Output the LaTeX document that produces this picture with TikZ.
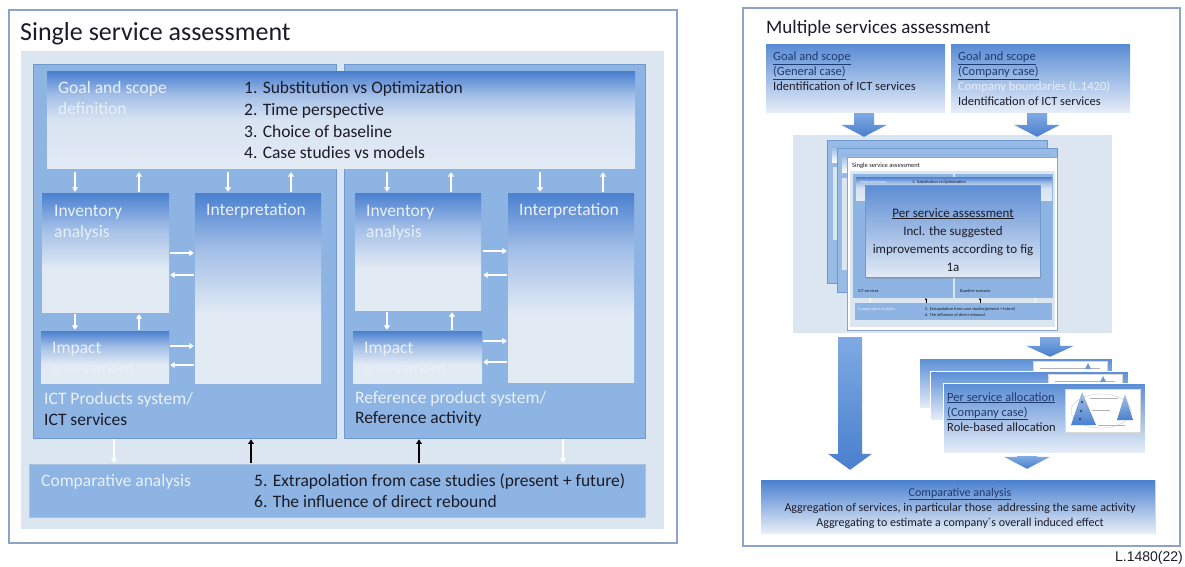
\documentclass[tikz,border=0pt]{standalone}
\usepackage{fontspec}
\setmainfont{Carlito}
\newfontfamily\arialfont{Liberation Sans}
\usetikzlibrary{fit,shadows,calc,arrows.meta}

\definecolor{frameC}{HTML}{8FA3C8}
\definecolor{panelC}{HTML}{DCE6F1}
\definecolor{sysC}{HTML}{8DB4E2}
\definecolor{sysEdge}{HTML}{6F98CE}
\definecolor{gradTop}{HTML}{4A80D0}
\definecolor{gradMid}{HTML}{A3BFE7}
\definecolor{gradBot}{HTML}{E2EAF4}
\definecolor{paleTxt}{HTML}{E9F0F9}
\definecolor{headC}{HTML}{1F3A6E}
\definecolor{inkC}{HTML}{1C1C28}
\definecolor{arrTop}{HTML}{7FAAE3}
\definecolor{arrBot}{HTML}{4A7FCD}
\definecolor{slideTop}{HTML}{5A8DD6}
\definecolor{slideBot}{HTML}{E7EEF7}

% box shadings: strong blue at the top fading to a pale bottom
\pgfdeclareverticalshading{boxshade}{100bp}{color(0bp)=(gradBot); color(25bp)=(gradBot); color(43bp)=(gradBot); color(60bp)=(gradMid); color(75bp)=(gradTop); color(100bp)=(gradTop)}
\pgfdeclareverticalshading{goalshade}{100bp}{color(0bp)=(gradBot); color(25bp)=(gradBot); color(50bp)=(gradBot!85!gradMid); color(63bp)=(gradMid); color(75bp)=(gradTop); color(100bp)=(gradTop)}

\tikzset{
  frame/.style={draw=frameC, line width=1.2pt, fill=white, inner sep=0pt},
  panel/.style={fill=panelC, inner sep=0pt},
  sysbox/.style={fill=sysC, draw=sysEdge, line width=0.6pt, inner sep=0pt,
     drop shadow={opacity=0.3, shadow xshift=0.8pt, shadow yshift=-1.2pt}},
  flatbox/.style={fill=sysC, inner sep=0pt},
  gradbox/.style={shading=boxshade, inner sep=0pt},
  goalbox/.style={shading=goalshade, inner sep=0pt},
  slidebox/.style={top color=slideTop, bottom color=slideBot, inner sep=0pt},
  txt/.style={inner sep=0pt, anchor=base west, font=\fontsize{17.5}{21}\selectfont, text=inkC},
  pale/.style={txt, text=paleTxt},
  rtxt/.style={inner sep=0pt, anchor=base west, font=\fontsize{12.5}{15}\selectfont, text=inkC},
  tiny/.style={inner sep=0pt, anchor=base west, font=\fontsize{4.3}{5}\selectfont, text=inkC},
  ctxt/.style={inner sep=0pt, anchor=base, font=\fontsize{12}{14}\selectfont, text=inkC},
  warr/.style={white, line width=1.4pt, -{Triangle[length=4.5pt,width=6pt]}},
  barr/.style={black, line width=1.3pt, -{Triangle[length=4.5pt,width=5.5pt]}},
  twarr/.style={white, line width=0.5pt, -{Triangle[length=1.6pt,width=2pt]}},
  tbarr/.style={black, line width=0.5pt, -{Triangle[length=1.6pt,width=2pt]}},
  blockarrow/.style={top color=arrTop, bottom color=arrBot},
}

% downward block arrow between two anchors:
% #1 start, #2 end, #3 start gap, #4 end gap, #5 shaft half width, #6 head half width, #7 head length
\newcommand\blockdown[7]{%
  \shade[blockarrow] let \p1=#1, \p2=#2 in
    (\x1-#5,\y1-#3) -- (\x1+#5,\y1-#3) -- (\x1+#5,\y2+#4+#7) -- (\x1+#6,\y2+#4+#7)
    -- (\x1,\y2+#4) -- (\x1-#6,\y2+#4+#7) -- (\x1-#5,\y2+#4+#7) -- cycle;}

\begin{document}
\begin{tikzpicture}[x=1pt,y=-1pt]
\useasboundingbox (0,0) rectangle (1185,567);
\fill[white] (0,0) rectangle (1185,567);

% ================= single service assessment =================
\node[frame, fit={(9,10)(677,543)}] (frameL) {};
\node[inner sep=0pt, anchor=base west, font=\fontsize{26}{30}\selectfont, text=inkC] (titleL) at (20,41) {Single service assessment};
\node[panel, fit={(21,51)(664,529)}] (panelL) {};

\node[sysbox, fit={(33,64)(336,438)}] (sysL) {};
\node[sysbox, fit={(344,64)(645,438)}] (sysR) {};

% goal and scope definition, shared by both systems
\node[goalbox, fit={(47,72)(635,168)}] (goal) {};
\node[pale] (goalA) at (58,94) {Goal and scope};
\node[pale] (goalB) at (58,115) {definition};
\node[txt] (q1) at (244,94) {1. Substitution vs Optimization};
\node[txt] (q2) at (244,115.5) {2. Time perspective};
\node[txt] (q3) at (244,137) {3. Choice of baseline};
\node[txt] (q4) at (244,158.5) {4. Case studies vs models};

% ICT product system
\node[gradbox, fit={(42,193)(169,312)}] (invL) {};
\node[gradbox, fit={(195,193)(321,383)}] (intL) {};
\node[gradbox, fit={(41,331)(169,383)}] (impL) {};
\node[pale] (invLa) at (54,216) {Inventory};
\node[pale] (invLb) at (54,237) {analysis};
\node[pale] (intLa) at (206,215) {Interpretation};
\node[pale] (impLa) at (52,353) {Impact};
\node[pale] (impLb) at (52,374) {assessment};
\node[pale] (sysLa) at (44,404) {ICT Products system/};
\node[txt] (sysLb) at (44,425) {ICT services};

% reference product system
\node[gradbox, fit={(355,193)(481,310)}] (invR) {};
\node[gradbox, fit={(508,193)(634,382)}] (intR) {};
\node[gradbox, fit={(353,331)(482,383)}] (impR) {};
\node[pale] (invRa) at (366,216) {Inventory};
\node[pale] (invRb) at (366,237) {analysis};
\node[pale] (intRa) at (519,215) {Interpretation};
\node[pale] (impRa) at (364,353) {Impact};
\node[pale] (impRb) at (364,374) {assessment};
\node[pale] (sysRa) at (355,403) {Reference product system/};
\node[txt] (sysRb) at (355,423) {Reference activity};

% comparative analysis
\node[flatbox, draw=sysEdge!60, line width=0.4pt, fit={(29,464)(645,517)}] (cmpL) {};
\node[pale] (cmpLa) at (41,486) {Comparative analysis};
\node[txt] (cmpLb) at (254,486) {5. Extrapolation from case studies (present + future)};
\node[txt] (cmpLc) at (254,507) {6. The influence of direct rebound};

% goal <-> inventory / interpretation
\draw[warr, shorten <=4pt, shorten >=1pt] (goal.south -| 75,0) -- (invL.north -| 75,0);
\draw[warr, shorten <=1pt, shorten >=4pt] (invL.north -| 139,0) -- (goal.south -| 139,0);
\draw[warr, shorten <=4pt, shorten >=1pt] (goal.south -| 228,0) -- (intL.north -| 228,0);
\draw[warr, shorten <=1pt, shorten >=4pt] (intL.north -| 291,0) -- (goal.south -| 291,0);
\draw[warr, shorten <=4pt, shorten >=1pt] (goal.south -| 387,0) -- (invR.north -| 387,0);
\draw[warr, shorten <=1pt, shorten >=4pt] (invR.north -| 451,0) -- (goal.south -| 451,0);
\draw[warr, shorten <=4pt, shorten >=1pt] (goal.south -| 540,0) -- (intR.north -| 540,0);
\draw[warr, shorten <=1pt, shorten >=4pt] (intR.north -| 603,0) -- (goal.south -| 603,0);

% inventory <-> impact
\draw[warr, shorten <=2pt, shorten >=1pt] (invL.south -| 75,0) -- (impL.north -| 75,0);
\draw[warr, shorten <=1pt, shorten >=2pt] (impL.north -| 139,0) -- (invL.south -| 139,0);
\draw[warr, shorten <=2pt, shorten >=1pt] (invR.south -| 387,0) -- (impR.north -| 387,0);
\draw[warr, shorten <=1pt, shorten >=2pt] (impR.north -| 452,0) -- (invR.south -| 452,0);

% inventory / impact <-> interpretation
\draw[warr, shorten <=1pt, shorten >=1pt] (invL.east |- 0,253) -- (intL.west |- 0,253);
\draw[warr, shorten <=1pt, shorten >=1pt] (intL.west |- 0,275) -- (invL.east |- 0,275);
\draw[warr, shorten <=1pt, shorten >=1pt] (impL.east |- 0,346) -- (intL.west |- 0,346);
\draw[warr, shorten <=1pt, shorten >=1pt] (intL.west |- 0,365) -- (impL.east |- 0,365);
\draw[warr, shorten <=2pt, shorten >=1pt] (invR.east |- 0,251) -- (intR.west |- 0,251);
\draw[warr, shorten <=1pt, shorten >=2pt] (intR.west |- 0,275) -- (invR.east |- 0,275);
\draw[warr, shorten <=1pt, shorten >=1pt] (impR.east |- 0,341) -- (intR.west |- 0,341);
\draw[warr, shorten <=1pt, shorten >=1pt] (intR.west |- 0,362) -- (impR.east |- 0,362);

% systems <-> comparative analysis
\draw[warr, shorten <=1pt, shorten >=1pt] (sysL.south -| 114,0) -- (cmpL.north -| 114,0);
\draw[barr, shorten <=1pt, shorten >=1pt] (cmpL.north -| 251,0) -- (sysL.south -| 251,0);
\draw[barr, shorten <=1pt, shorten >=1pt] (cmpL.north -| 419,0) -- (sysR.south -| 419,0);
\draw[warr, shorten <=1pt, shorten >=1pt] (sysR.south -| 563,0) -- (cmpL.north -| 563,0);

% ================= multiple services assessment =================
\node[frame, fit={(743,8)(1180,546)}] (frameR) {};
\node[inner sep=0pt, anchor=base west, font=\fontsize{19}{23}\selectfont, text=inkC] (titleR) at (766,34) {Multiple services assessment};

\node[slidebox, fit={(766,45)(945,113)}] (goalG) {};
\node[slidebox, fit={(951,45)(1130,113)}] (goalC) {};
\node[rtxt, text=headC] (gGa) at (773,61) {\underline{Goal and scope}};
\node[rtxt, text=headC] (gGb) at (773,76) {\underline{(General case)}};
\node[rtxt] (gGc) at (773,91) {Identification of ICT services};
\node[rtxt, text=headC] (gCa) at (958,61) {\underline{Goal and scope}};
\node[rtxt, text=headC] (gCb) at (958,76) {\underline{(Company case)}};
\node[rtxt, text=paleTxt] (gCc) at (958,91) {Company boundaries (L.1420)};
\node[rtxt] (gCd) at (958,106) {Identification of ICT services};

\node[panel, fit={(793,135)(1112,333)}] (panelR) {};

% stack of single service assessments
\node[fill=sysC!90!white, draw=sysEdge, line width=0.6pt, inner sep=0pt, fit={(827,140)(1047,283)}] (slA) {};
\node[top color=sysC, bottom color=white, inner sep=0pt, fit={(832,146)(1042,162)}] (slAbar) {};
\node[fill=panelC, inner sep=0pt, fit={(833,167)(840,240)}] (slAstrip) {};
\node[fill=sysC!90!white, draw=sysEdge, line width=0.6pt, inner sep=0pt, fit={(837,148)(1057,292)}] (slB) {};
\node[top color=sysC, bottom color=white, inner sep=0pt, fit={(842,154)(1052,172)}] (slBbar) {};
\node[fill=panelC, inner sep=0pt, fit={(842,178)(850,270)}] (slBstrip) {};

\node[fill=white, draw=frameC, line width=0.6pt, inner sep=0pt, fit={(847,157)(1057,330)}] (slC) {};
\node[inner sep=0pt, anchor=base west, font=\fontsize{6.5}{7}\selectfont, text=inkC] (slCt) at (852,167) {Single service assessment};
\node[panel, fit={(850,171)(1055,327)}] (slCp) {};
\node[flatbox, fit={(853,174)(953,298)}] (slCl) {};
\node[flatbox, fit={(955,174)(1053,298)}] (slCr) {};
\node[goalbox, fit={(856,177)(1052,200)}] (slCg) {};
\node[tiny, text=paleTxt] (slCga) at (860,183) {Goal and scope};
\node[tiny] (slCgb) at (912,183) {1. Substitution vs Optimization};
\node[tiny] (slCla) at (858,292) {ICT services};
\node[tiny] (slCra) at (960,292) {Baseline scenario};
\node[flatbox, fit={(855,303)(1052,320)}] (slCc) {};
\node[tiny, text=paleTxt] (slCca) at (858,310) {Comparative analysis};
\node[tiny] (slCcb) at (925,310) {5. Extrapolation from case studies(present + future)};
\node[tiny] (slCcc) at (925,316) {6. The influence of direct rebound};
\draw[tbarr] (slCc.north -| 926,0) -- (slCl.south -| 926,0);
\draw[tbarr] (slCc.north -| 980,0) -- (slCr.south -| 980,0);
\draw[twarr] (slCl.south -| 870,0) -- (slCc.north -| 870,0);
\draw[twarr] (slCr.south -| 1035,0) -- (slCc.north -| 1035,0);

\node[top color=gradTop!90!white, bottom color=gradBot, draw=sysEdge, line width=0.5pt, inner sep=0pt,
      drop shadow={opacity=0.3, shadow xshift=1pt, shadow yshift=-1.5pt},
      fit={(865,185)(1040,277)}] (psa) {};
\node[inner sep=0pt, anchor=base, font=\fontsize{13}{16}\selectfont, text=inkC] (psaA) at (953,217) {\underline{Per service assessment}};
\node[inner sep=0pt, anchor=base, font=\fontsize{13}{16}\selectfont, text=inkC] (psaB) at (953,235) {Incl. the suggested};
\node[inner sep=0pt, anchor=base, font=\fontsize{13}{16}\selectfont, text=inkC] (psaC) at (953,253) {improvements according to fig};
\node[inner sep=0pt, anchor=base, font=\fontsize{13}{16}\selectfont, text=inkC] (psaD) at (953,271) {1a};

% stack of per service allocations
\node[slidebox, draw=white, line width=0.4pt, fit={(919,358)(1112,408)}] (alA) {};
\node[fill=white, draw=black!15, line width=0.3pt, inner sep=0pt, fit={(1033,361)(1107,371)}] (imA) {};
\draw[black!30, line width=0.3pt] (1040,368) -- (1100,368);
\fill[sysEdge] (1085,369) -- (1088,363) -- (1091,369) -- cycle;
\node[slidebox, draw=white, line width=0.4pt, fit={(930,371)(1128,420)}] (alB) {};
\node[fill=white, draw=black!15, line width=0.3pt, inner sep=0pt, fit={(1048,374)(1122,384)}] (imB) {};
\draw[black!30, line width=0.3pt] (1055,381) -- (1115,381);
\fill[sysEdge] (1100,382) -- (1103,376) -- (1106,382) -- cycle;
\node[slidebox, draw=white, line width=0.4pt, fit={(943,383)(1145,453)}] (alC) {};
\node[fill=white, draw=black!15, line width=0.3pt, inner sep=0pt, fit={(1065,389)(1140,432)}] (imC) {};
\draw[black!25, line width=0.3pt] (1101,411) ellipse [x radius=30, y radius=17];
\shade[top color=sysEdge!60!white, bottom color=gradTop] (1082,392) -- (1071,425) -- (1096,425) -- cycle;
\shade[top color=sysEdge!60!white, bottom color=gradTop] (1125,394) -- (1117,420) -- (1133,420) -- cycle;
\fill[headC] (1082,402) circle (1.2);
\fill[headC] (1081,411) circle (1.2);
\fill[headC] (1080,419) circle (1.2);
\draw[black!30, line width=0.3pt] (1090,398) -- (1118,398) (1092,410) -- (1110,410) (1098,425) -- (1125,425);
\node[rtxt, text=headC] (alCa) at (947,401) {\underline{Per service allocation}};
\node[rtxt, text=headC] (alCb) at (947,416) {\underline{(Company case)}};
\node[rtxt] (alCc) at (947,431) {Role-based allocation};

% aggregated comparative analysis
\node[top color=gradTop, bottom color=slideBot, inner sep=0pt,
      drop shadow={opacity=0.25, shadow xshift=0.8pt, shadow yshift=-1.2pt},
      fit={(761,480)(1155,533)}] (cmpR) {};
\node[ctxt, text=headC] (cmpRa) at (960,496) {\underline{Comparative analysis}};
\node[ctxt] (cmpRb) at (960,511) {Aggregation of services, in particular those\ \ addressing the same activity};
\node[ctxt] (cmpRc) at (960,526) {Aggregating to estimate a company´s overall induced effect};

% block arrows
\blockdown{(goalG.south -| 864,0)}{(panelR.north -| 864,0)}{0pt}{-2pt}{10pt}{23pt}{12pt}
\blockdown{(goalC.south -| 1037,0)}{(panelR.north -| 1037,0)}{0pt}{-2pt}{10pt}{23pt}{12pt}
\blockdown{(panelR.south -| 850,0)}{(cmpR.north -| 850,0)}{4pt}{10pt}{12pt}{22pt}{16pt}
\blockdown{(panelR.south -| 1050,0)}{(alA.north -| 1050,0)}{4pt}{1pt}{10pt}{24pt}{11pt}
\blockdown{(alC.south -| 1027,0)}{(cmpR.north -| 1027,0)}{3pt}{11pt}{10pt}{23pt}{12pt}

\node[inner sep=0pt, anchor=base east, font=\arialfont\fontsize{14}{16}\selectfont, text=inkC] (figno) at (1183,561) {L.1480(22)};
\end{tikzpicture}
\end{document}
